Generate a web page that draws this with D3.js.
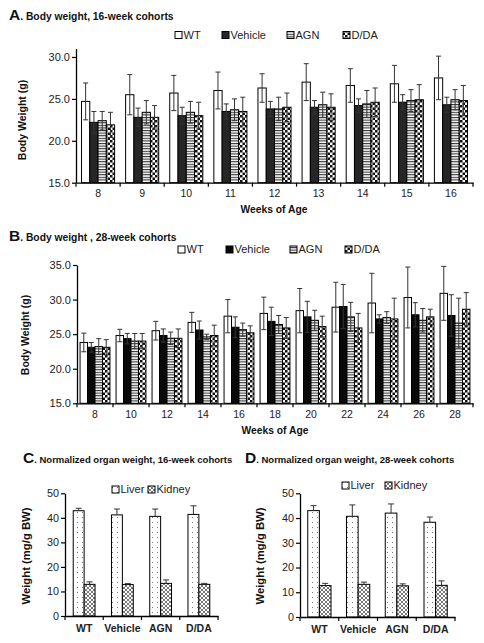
<!DOCTYPE html>
<html><head><meta charset="utf-8">
<script src="https://cdn.jsdelivr.net/npm/d3@7"></script>
<style>body{margin:0;background:#fff}svg{display:block}text{font-family:"Liberation Sans",Arial,sans-serif}</style>
</head><body>
<svg id="c" width="484" height="643"></svg>
<script>
// ---------- DATA ----------
const seriesNames = ["WT","Vehicle","AGN","D/DA"];
const weeksA = ["8","9","10","11","12","13","14","15","16"];
const A_WT = [24.7,25.5,25.7,26.0,26.3,27.0,26.6,26.8,27.5];
const A_WT_err = [2.2,2.4,2.1,2.2,1.7,2.2,2.0,2.2,2.6];
const A_Veh = [22.2,22.8,23.0,23.5,23.8,24.0,24.2,24.6,24.3];
const A_Veh_err = [1.3,1.1,1.0,0.9,0.9,0.8,0.8,0.9,0.9];
const A_AGN = [22.4,23.4,23.4,23.7,23.8,24.3,24.4,24.8,24.9];
const A_AGN_err = [1.1,1.4,1.3,1.3,1.4,1.5,1.6,1.3,1.2];
const A_DDA = [21.9,22.8,23.0,23.5,24.0,24.0,24.6,24.9,24.8];
const A_DDA_err = [1.5,1.4,1.6,1.7,1.7,1.6,1.7,1.8,1.8];
const A_yticks = ["15.0","20.0","25.0","30.0"];

const weeksB = ["8","10","12","14","16","18","20","22","24","26","28"];
const B_WT = [23.8,24.8,25.5,26.7,27.6,28.0,28.4,28.9,29.5,30.3,30.9];
const B_WT_err = [1.35,0.9,1.35,1.45,2.4,2.35,3.2,3.6,4.3,4.4,3.9];
const B_Veh = [23.1,24.35,24.8,25.6,26.0,26.85,27.5,29.0,27.2,27.8,27.7];
const B_Veh_err = [0.7,0.75,0.95,1.3,1.5,2.05,2.25,3.2,0.6,1.75,3.0];
const B_AGN = [23.2,24.0,24.4,24.6,25.65,26.4,27.0,27.5,27.4,27.0,26.6];
const B_AGN_err = [1.15,1.1,0.9,0.4,0.95,1.3,1.45,2.1,0.85,1.7,3.6];
const B_DDA = [23.1,24.0,24.4,24.8,25.2,25.9,26.1,25.9,27.2,27.5,28.6];
const B_DDA_err = [1.1,1.1,1.35,1.5,1.0,1.5,1.5,2.1,3.0,1.1,2.4];
const B_yticks = ["15.0","20.0","25.0","30.0","35.0"];

const organNames = ["Liver","Kidney"];
const groups = ["WT","Vehicle","AGN","D/DA"];
const C_Liver = [42.9,41.2,40.6,41.4];
const C_Liver_err = [1.0,2.4,3.0,3.5];
const C_Kidney = [12.9,12.8,13.3,12.9];
const C_Kidney_err = [1.0,0.4,1.4,0.4];
const D_Liver = [43.0,40.7,42.0,38.3];
const D_Liver_err = [2.0,4.6,3.7,2.1];
const D_Kidney = [12.7,13.2,12.6,12.8];
const D_Kidney_err = [0.9,0.9,0.8,1.8];
const CD_yticks = ["0","10","20","30","40","50"];

// ---------- DRAW ----------
const svg = d3.select("#c");
const defs = svg.append("defs");
function pat(id,w,h,draw){
  const p = defs.append("pattern").attr("id",id).attr("patternUnits","userSpaceOnUse").attr("width",w).attr("height",h);
  p.append("rect").attr("width",w).attr("height",h).attr("fill","#fff");
  draw(p);
}
pat("stripes",3,2.6,p=>p.append("rect").attr("y",0).attr("width",3).attr("height",1.1).attr("fill","#333"));
pat("checks",5,5,p=>{p.append("rect").attr("width",2.5).attr("height",2.5).attr("fill","#111");p.append("rect").attr("x",2.5).attr("y",2.5).attr("width",2.5).attr("height",2.5).attr("fill","#111");});
pat("dots",5,5,p=>p.append("rect").attr("x",2).attr("y",2).attr("width",1).attr("height",1).attr("fill","#777"));
pat("hatch",4,4,p=>{p.append("path").attr("d","M0,0L4,4M4,0L0,4").attr("stroke","#555").attr("stroke-width",0.8);});

const fillsA = ["#fff","#262626","url(#stripes)","url(#checks)"];
const fillsB = ["#fff","#0a0a0a","url(#stripes)","url(#checks)"];
const fillsOrg = ["url(#dots)","url(#hatch)"];

function panel(o){
  const g = svg.append("g");
  const x0 = d3.scaleBand().domain(o.cats).range(o.xr);
  const x1 = d3.scaleBand().domain(o.names).range([x0.bandwidth()*(1-o.gr)/2, x0.bandwidth()*(1+o.gr)/2]);
  const y = d3.scaleLinear().domain(o.yd).range(o.yr);
  o.series.forEach((s,si)=>{
    g.append("g").selectAll("rect").data(o.cats).join("rect")
      .attr("x",c=>x0(c)+x1(o.names[si]))
      .attr("width",x1.bandwidth())
      .attr("y",(c,i)=>y(s.v[i]))
      .attr("height",(c,i)=>y(o.yd[0])-y(s.v[i]))
      .attr("fill",o.fills[si]).attr("stroke","#000").attr("stroke-width",1);
  });
  o.series.forEach((s,si)=>{
    const cap = o.cap;
    o.cats.forEach((c,i)=>{
      const cx = x0(c)+x1(o.names[si])+x1.bandwidth()/2;
      const lo = o.lower ? s.v[i]-s.e[i] : s.v[i];
      const hi = s.v[i]+s.e[i];
      g.append("line").attr("x1",cx).attr("x2",cx).attr("y1",y(lo)).attr("y2",y(hi)).attr("stroke","#333").attr("stroke-width",1);
      g.append("line").attr("x1",cx-cap).attr("x2",cx+cap).attr("y1",y(hi)).attr("y2",y(hi)).attr("stroke","#333").attr("stroke-width",1);
      if(o.lower) g.append("line").attr("x1",cx-cap).attr("x2",cx+cap).attr("y1",y(lo)).attr("y2",y(lo)).attr("stroke","#333").attr("stroke-width",1);
    });
  });
  const ya = g.append("g").attr("transform",`translate(${o.xr[0]},0)`)
    .call(d3.axisLeft(y).tickValues(o.yticks.map(Number)).tickFormat((d,i)=>o.yticks[i]).tickSize(4).tickSizeOuter(0));
  ya.select(".domain").attr("stroke","#000").attr("stroke-width",1.3);
  ya.selectAll(".tick line").attr("stroke","#000").attr("stroke-width",1.2);
  ya.selectAll("text").attr("font-size",o.tfs).attr("fill","#222").attr("x",-6).attr("font-family","Liberation Sans, Arial, sans-serif");
  const xa = g.append("g").attr("transform",`translate(0,${o.yr[0]})`)
    .call(d3.axisBottom(x0).tickSize(0).tickSizeOuter(0));
  xa.select(".domain").attr("stroke","#000").attr("stroke-width",1.3);
  xa.selectAll("text").attr("font-size",o.xfs).attr("font-weight",o.xbold?"bold":"normal").attr("fill","#222").attr("dy",o.xdy).attr("font-family","Liberation Sans, Arial, sans-serif");
  const bounds = o.cats.map(c=>x0(c)).concat([o.xr[1]]);
  g.selectAll(".bt").data(bounds).join("line").attr("x1",d=>d).attr("x2",d=>d)
    .attr("y1",o.yr[0]).attr("y2",o.yr[0]+4).attr("stroke","#000").attr("stroke-width",1.2);
  const t = svg.append("text").attr("x",o.tx).attr("y",o.ty).attr("font-weight","bold").attr("fill","#111");
  t.append("tspan").attr("font-size",15.5).text(o.letter);
  t.append("tspan").attr("font-size",o.ttfs).text(o.title);
  svg.append("text").attr("transform",`translate(${o.ylx},${o.yly}) rotate(-90)`).attr("text-anchor","middle")
    .attr("font-size",o.ylfs).attr("font-weight","bold").attr("fill","#111").text(o.ylabel);
  if(o.xlabel) svg.append("text").attr("x",o.xlx).attr("y",o.xly).attr("text-anchor","middle")
    .attr("font-size",10.3).attr("font-weight","bold").attr("fill","#111").text(o.xlabel);
  o.names.forEach((n,i)=>{
    const lx = o.leg[i], ly = o.legy;
    svg.append("rect").attr("x",lx).attr("y",ly-7).attr("width",7).attr("height",7).attr("fill",o.fills[i]).attr("stroke","#000").attr("stroke-width",1);
    svg.append("text").attr("x",lx+8.5).attr("y",ly).attr("font-size",o.lfs).attr("fill","#222").text(n);
  });
}

panel({cats:weeksA,names:seriesNames,xr:[76,473],gr:0.75,yd:[15,31],yr:[182.7,48.6],yticks:A_yticks,
  series:[{v:A_WT,e:A_WT_err},{v:A_Veh,e:A_Veh_err},{v:A_AGN,e:A_AGN_err},{v:A_DDA,e:A_DDA_err}],
  fills:fillsA,cap:2.5,lower:true,tfs:11,xfs:10.5,xbold:false,xdy:"1.1em",
  letter:"A",title:". Body weight, 16-week cohorts",tx:9,ty:20,ttfs:10.3,
  ylabel:"Body Weight (g)",ylx:26,yly:120,ylfs:10.5,xlabel:"Weeks of Age",xlx:274,xly:213,
  leg:[175,222,287,343],legy:38.5,lfs:11});

panel({cats:weeksB,names:seriesNames,xr:[77,473],gr:0.83,yd:[15,35],yr:[403.3,265],yticks:B_yticks,
  series:[{v:B_WT,e:B_WT_err},{v:B_Veh,e:B_Veh_err},{v:B_AGN,e:B_AGN_err},{v:B_DDA,e:B_DDA_err}],
  fills:fillsB,cap:2.5,lower:true,tfs:11,xfs:10.5,xbold:false,xdy:"1.1em",
  letter:"B",title:". Body weight , 28-week cohorts",tx:9,ty:241,ttfs:10.3,
  ylabel:"Body Weight (g)",ylx:29,yly:335,ylfs:10.5,xlabel:"Weeks of Age",xlx:275,xly:434,
  leg:[178,226,290,345],legy:253,lfs:11});

panel({cats:groups,names:organNames,xr:[65,218],gr:0.57,yd:[0,50],yr:[616,493.3],yticks:CD_yticks,
  series:[{v:C_Liver,e:C_Liver_err},{v:C_Kidney,e:C_Kidney_err}],
  fills:fillsOrg,cap:3,lower:false,tfs:10.8,xfs:10.5,xbold:true,xdy:"1.2em",
  letter:"C",title:". Normalized organ weight, 16-week cohorts",tx:23,ty:463,ttfs:9.5,
  ylabel:"Weight (mg/g BW)",ylx:30,yly:556,ylfs:11.3,xlabel:null,
  leg:[112,148],legy:493,lfs:11});

panel({cats:groups,names:organNames,xr:[300,455],gr:0.6,yd:[0,50],yr:[617,493.3],yticks:CD_yticks,
  series:[{v:D_Liver,e:D_Liver_err},{v:D_Kidney,e:D_Kidney_err}],
  fills:fillsOrg,cap:3,lower:false,tfs:10.8,xfs:10.5,xbold:true,xdy:"1.2em",
  letter:"D",title:". Normalized organ weight, 28-week cohorts",tx:245,ty:463,ttfs:9.5,
  ylabel:"Weight (mg/g  BW)",ylx:264,yly:556,ylfs:11.3,xlabel:null,
  leg:[342,385],legy:489,lfs:11});
</script>
</body></html>
